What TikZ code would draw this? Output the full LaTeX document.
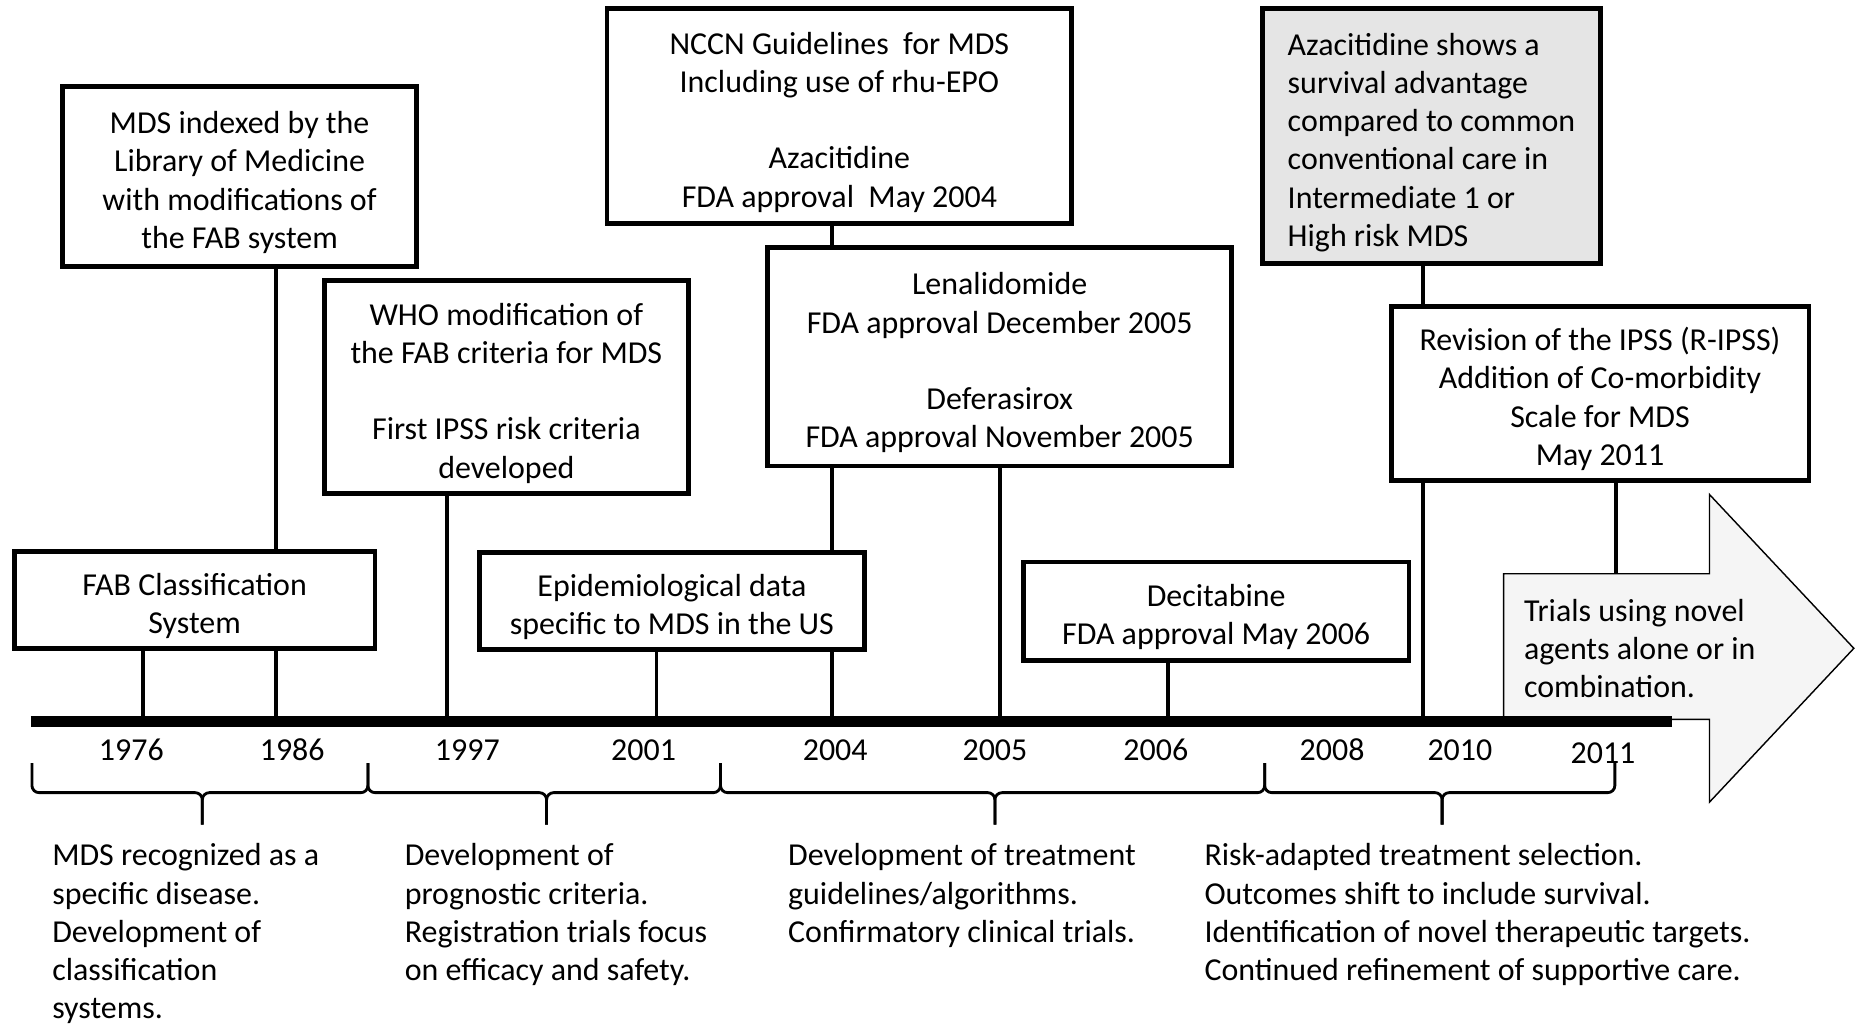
\documentclass[tikz,border=0pt]{standalone}
\usepackage{fontspec}
\setmainfont{Carlito}
\pgfdeclarelayer{background}
\pgfsetlayers{background,main}
\newcommand{\boxtop}{\rule{0pt}{34.6pt}}
\newcommand{\boxbot}{\rule[-9.7pt]{0pt}{0pt}}
\begin{document}
\begin{tikzpicture}[x=1pt,y=-1pt,
  every node/.style={font=\fontsize{27}{32.3}\selectfont},
  box/.style={draw, line width=4, fill=white, inner xsep=4, inner ysep=2, align=center},
  graybox/.style={box, fill=black!10, align=left},
  link/.style={line width=3.2},
  brc/.style={line width=2.4, rounded corners=6},
  yr/.style={inner sep=0},
  note/.style={anchor=north west, inner sep=0, align=left},
  bigarrow/.style={line width=1.2, fill=black!4, line join=miter}
]
\useasboundingbox (0,0) rectangle (1568,865);
\begin{pgfonlayer}{background}
\fill[white] (0,0) rectangle (1568,865);
\end{pgfonlayer}

% tick points on the time bar
\coordinate (barL) at (26,610);
\coordinate (barR) at (1413,610);
\coordinate (t1976) at (121,610);
\coordinate (t1986) at (233,610);
\coordinate (t1997) at (378,610);
\coordinate (t2001) at (555,610);
\coordinate (t2004) at (703,610);
\coordinate (t2005) at (845,610);
\coordinate (t2006) at (987,610);
\coordinate (t2010) at (1203,610);
\coordinate (t2011) at (1366,610);

% boxes
\node[box, minimum width=299, minimum height=152] (mds) at (202.5,149)
  {\boxtop MDS indexed by the\\Library of Medicine\\with modifications of\\the FAB system\boxbot};
\node[box, minimum width=305, minimum height=82] (fab) at (164.5,507)
  {\boxtop FAB Classification\\System\boxbot};
\node[box, minimum width=308, minimum height=180] (who) at (428,327)
  {\boxtop WHO modification of\\the FAB criteria for MDS\\[32.3pt]First IPSS risk criteria\\developed\boxbot};
\node[box, minimum width=326, minimum height=82] (epi) at (568,508)
  {\boxtop Epidemiological data\\specific to MDS in the US\boxbot};
\node[box, minimum width=393, minimum height=182] (nccn) at (709.5,98)
  {\boxtop NCCN Guidelines~ for MDS\\Including use of rhu-EPO\\[32.3pt]Azacitidine\\FDA approval~ May 2004\boxbot};
\node[box, minimum width=392, minimum height=185] (lena) at (845,301.5)
  {\boxtop Lenalidomide\\FDA approval December 2005\\[32.3pt]Deferasirox\\FDA approval November 2005\boxbot};
\node[box, minimum width=326, minimum height=83] (deci) at (1028,516.5)
  {\boxtop Decitabine\\FDA approval May 2006\boxbot};
\node[graybox, minimum width=286, minimum height=216] (azac) at (1210,115)
  {\boxtop Azacitidine shows a\\survival advantage\\compared to common\\conventional care in\\Intermediate 1 or\\High risk MDS\boxbot};
\node[box, minimum width=353, minimum height=147] (ripss) at (1352.5,332.5)
  {\boxtop Revision of the IPSS (R-IPSS)\\Addition of Co-morbidity\\Scale for MDS\\May 2011\boxbot};

% connectors (behind the boxes)
\begin{pgfonlayer}{background}
\draw[link] (fab.south -| t1976) -- (t1976);
\draw[link] (mds.south -| t1986) -- (t1986);
\draw[link] (who.south -| t1997) -- (t1997);
\draw[link] (epi.south -| t2001) -- (t2001);
\draw[link] (nccn.south -| t2004) -- (t2004);
\draw[link] (lena.south -| t2005) -- (t2005);
\draw[link] (deci.south -| t2006) -- (t2006);
\draw[link] (azac.south -| t2010) -- (t2010);
\draw[link] (ripss.south -| t2011) -- (t2011);
\end{pgfonlayer}

% future arrow
\draw[bigarrow] (1271,485) -- (1445,485) -- (1445,418) -- (1567,548)
  -- (1445,678) -- (1445,608) -- (1271,608) -- cycle;
\node[note] (trials) at (1288,506)
  {Trials using novel\\agents alone or in\\combination.};

% time bar
\draw[line width=9] (barL) -- (barR);

% year labels
\node[yr] (y1976) at (111,634) {1976};
\node[yr] (y1986) at (247,634) {1986};
\node[yr] (y1997) at (395,634) {1997};
\node[yr] (y2001) at (544,634) {2001};
\node[yr] (y2004) at (706,634) {2004};
\node[yr] (y2005) at (841,634) {2005};
\node[yr] (y2006) at (977,634) {2006};
\node[yr] (y2008) at (1126,634) {2008};
\node[yr] (y2010) at (1234,634) {2010};
\node[yr] (y2011) at (1355,637) {2011};

% braces
\foreach \a/\m/\b in {27/171/311, 311/462/609, 609/841/1069, 1069/1219/1365}{
  \draw[brc] (\a,645) -- (\a,670) -- (\m,670) -- (\m,697);
  \draw[brc] (\b,645) -- (\b,670) -- (\m,670) -- (\m,697);
}

% period descriptions
\node[note] (p1) at (44,713)
  {MDS recognized as a\\specific disease.\\Development of\\classification\\systems.};
\node[note] (p2) at (342,713)
  {Development of\\prognostic criteria.\\Registration trials focus\\on efficacy and safety.};
\node[note] (p3) at (666,713)
  {Development of treatment\\guidelines/algorithms.\\Confirmatory clinical trials.};
\node[note] (p4) at (1018,713)
  {Risk-adapted treatment selection.\\Outcomes shift to include survival.\\Identification of novel therapeutic targets.\\Continued refinement of supportive care.};
\end{tikzpicture}
\end{document}
